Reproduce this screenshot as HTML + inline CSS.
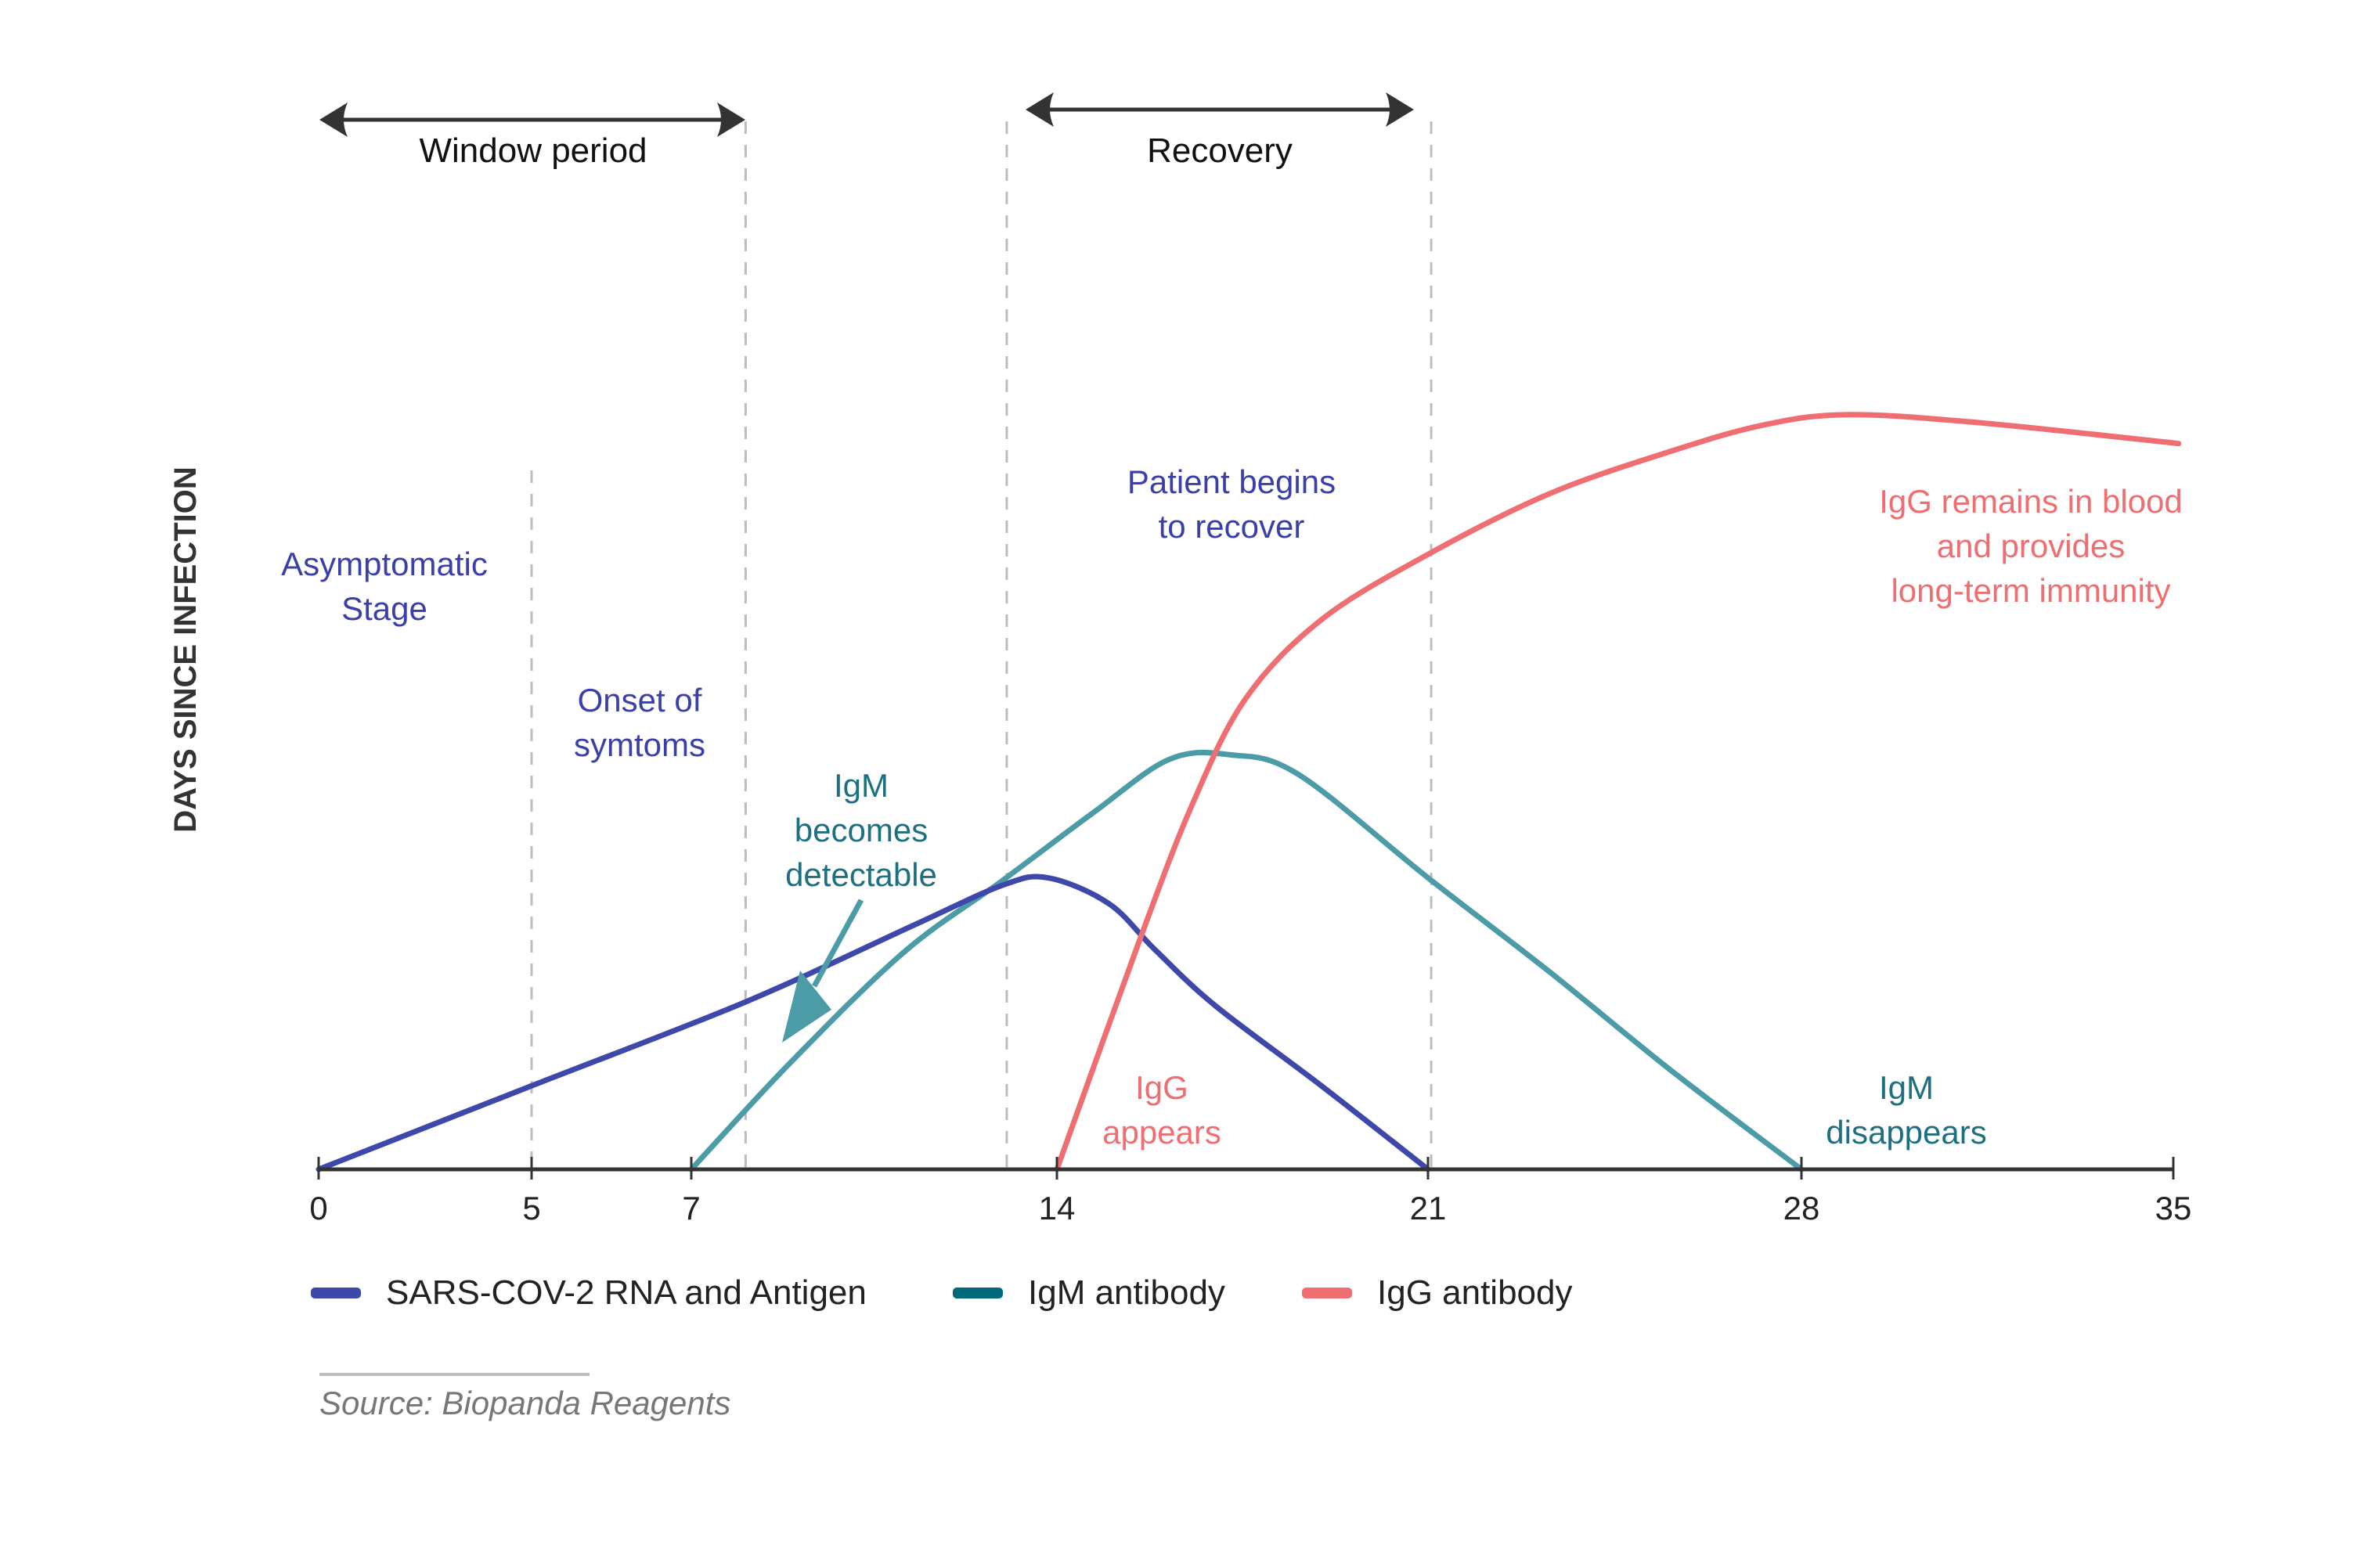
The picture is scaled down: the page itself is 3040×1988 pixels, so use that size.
<!DOCTYPE html>
<html><head><meta charset="utf-8"><style>
html,body{margin:0;padding:0;background:#fff;}
svg{display:block;font-family:"Liberation Sans",sans-serif;}
</style></head><body>
<svg id="chart" width="3040" height="1988" viewBox="0 0 3040 1988" xmlns="http://www.w3.org/2000/svg">
<rect width="3040" height="1988" fill="#fff"/>
<g id="guides"></g>
<g id="series"></g>
<g id="axis"></g>
<g id="annot"></g>
</svg>
<script>
const tickDays = [0, 5, 7, 14, 21, 28, 35];
const tickLabels = ["0", "5", "7", "14", "21", "28", "35"];
const rnaDays = [0, 5, 8.02, 11.21, 12.95, 13.83, 14.98, 15.84, 16.98, 18.99, 21];
const rnaValues = [0, 11, 22, 32, 37.4, 38.4, 35, 29, 21.6, 11, 0];
const igmDays = [7, 8.89, 11.07, 12.95, 14.69, 16.12, 17.27, 18.56, 21, 23.28, 25.56, 28];
const igmValues = [0, 14, 28.6, 38, 47, 54, 54.6, 52, 38.4, 26, 13, 0];
const iggDays = [14, 15.55, 16.55, 17.56, 18.99, 21, 23.28, 25.56, 27.26, 28.83, 31.26, 35.1];
const iggValues = [0, 30, 48, 62, 72.4, 81, 89, 94.6, 98, 99.4, 98.4, 95.6];
const guideDays = [5, 8.04, 13.04, 21.06];

const NS = "http://www.w3.org/2000/svg";
const axisPx = [407, 679, 883, 1350, 1824, 2301, 2776];
const Y0 = 1494, VPX = 9.7;
function xScale(d){
  for (let i = 0; i < tickDays.length - 1; i++){
    if (d <= tickDays[i+1] || i === tickDays.length - 2){
      const t = (d - tickDays[i]) / (tickDays[i+1] - tickDays[i]);
      return axisPx[i] + t * (axisPx[i+1] - axisPx[i]);
    }
  }
}
function yScale(v){ return Y0 - v * VPX; }
function mk(tag, attrs, parent){
  const e = document.createElementNS(NS, tag);
  for (const k in attrs) e.setAttribute(k, attrs[k]);
  parent.appendChild(e); return e;
}
function smoothPath(pts){
  let d = "M" + pts[0][0] + "," + pts[0][1];
  for (let i = 0; i < pts.length - 1; i++){
    const p0 = pts[Math.max(i-1,0)], p1 = pts[i], p2 = pts[i+1], p3 = pts[Math.min(i+2,pts.length-1)];
    const c1x = p1[0] + (p2[0]-p0[0])/6, c1y = p1[1] + (p2[1]-p0[1])/6;
    const c2x = p2[0] - (p3[0]-p1[0])/6, c2y = p2[1] - (p3[1]-p1[1])/6;
    d += " C" + c1x + "," + c1y + " " + c2x + "," + c2y + " " + p2[0] + "," + p2[1];
  }
  return d;
}
const guides = document.getElementById("guides");
guideDays.forEach((g, i) => {
  const top = i === 0 ? 601 : 155;
  const l = mk("line", {x1: xScale(g), x2: xScale(g), y1: top, y2: Y0, stroke: "#bdbdbd", "stroke-width": 3, "stroke-dasharray": "16 14"}, guides);
  
  
});
const series = document.getElementById("series");
function drawSeries(days, vals, color, name){
  const pts = days.map((d, i) => [xScale(d), yScale(vals[i])]);
  const p = mk("path", {d: smoothPath(pts), fill: "none", stroke: color, "stroke-width": 7, "stroke-linejoin": "round", "stroke-linecap": "round"}, series);
  
  
}
drawSeries(igmDays, igmValues, "#4b9ca6", "igm-line");
drawSeries(rnaDays, rnaValues, "#3d48aa", "rna-antigen-line");
drawSeries(iggDays, iggValues, "#ee6e72", "igg-line");

const axis = document.getElementById("axis");
const al = mk("line", {x1: xScale(0), x2: xScale(35), y1: Y0, y2: Y0, stroke: "#333", "stroke-width": 5}, axis);


tickDays.forEach((t, i) => {
  const tk = mk("line", {x1: xScale(t), x2: xScale(t), y1: Y0 - 16, y2: Y0 + 13, stroke: "#333", "stroke-width": 3}, axis);
  
  
  const tx = mk("text", {x: xScale(t), y: 1558, "text-anchor": "middle", "font-size": 42, fill: "#222"}, axis);
  tx.textContent = tickLabels[i];
  
  
});
</script>
<script>
(function(){
const NS = "http://www.w3.org/2000/svg";
const g = document.getElementById("annot");
function txt(lines, x, y0, color, name, size, weight, lh){
  const t = document.createElementNS(NS, "text");
  t.setAttribute("x", x); t.setAttribute("y", y0);
  t.setAttribute("text-anchor", "middle");
  t.setAttribute("font-size", size || 42);
  t.setAttribute("fill", color);
  if (weight) t.setAttribute("font-weight", weight);
  lines.forEach((s, i) => {
    const ts = document.createElementNS(NS, "tspan");
    ts.setAttribute("x", x); ts.setAttribute("dy", i ? (lh || 57) : 0);
    ts.textContent = s; t.appendChild(ts);
  });
  
  
  g.appendChild(t);
}
txt(["Window period"], 681, 207, "#111", "window-period-label", 44);
txt(["Recovery"], 1558, 207, "#111", "recovery-label", 44);
txt(["Asymptomatic", "Stage"], 491, 735, "#3b40a8", "asymptomatic-note");
txt(["Onset of", "symtoms"], 817, 909, "#3b40a8", "onset-note");
txt(["IgM", "becomes", "detectable"], 1100, 1018, "#1d7080", "igm-detectable-note");
txt(["Patient begins", "to recover"], 1573, 630, "#3b40a8", "recover-note");
txt(["IgG remains in blood", "and provides", "long-term immunity"], 2594, 655, "#ee6e72", "igg-remains-note");
txt(["IgG", "appears"], 1484, 1404, "#ee6e72", "igg-appears-note");
txt(["IgM", "disappears"], 2435, 1404, "#1d7080", "igm-disappears-note");
txt(["DAYS SINCE INFECTION"], 0, 0, "#333", "y-axis-title", 40, "bold");
const yt = g.lastChild; yt.setAttribute("transform", "translate(250,830) rotate(-90)");
function arrow(x1, x2, y, name){
  const grp = document.createElementNS(NS, "g");
  grp.innerHTML = '<line x1="'+(x1+20)+'" x2="'+(x2-20)+'" y1="'+y+'" y2="'+y+'" stroke="#333" stroke-width="5"/>' +
   '<path d="M'+x1+','+y+' L'+(x1+36)+','+(y-22)+' Q'+(x1+26)+','+y+' '+(x1+36)+','+(y+22)+' Z" fill="#333"/>' +
   '<path d="M'+x2+','+y+' L'+(x2-36)+','+(y-22)+' Q'+(x2-26)+','+y+' '+(x2-36)+','+(y+22)+' Z" fill="#333"/>';
  
  
  g.appendChild(grp);
}
arrow(408, 952, 153, "window-period-arrow");
arrow(1310, 1806, 140, "recovery-arrow");
const pa = document.createElementNS(NS, "g");
pa.innerHTML = '<line x1="1100" y1="1150" x2="1040" y2="1260" stroke="#4b9ca6" stroke-width="7"/>' +
 '<polygon points="999,1332 1022,1240 1062,1290" fill="#4b9ca6"/>';


g.appendChild(pa);
function legend(sx, color, label, name){
  const lg = document.createElementNS(NS, "g");
  lg.innerHTML = '<rect x="'+sx+'" y="1645" width="64" height="14" rx="5" fill="'+color+'"/>' +
   '<text x="'+(sx+96)+'" y="1666" font-size="44" fill="#222">'+label+'</text>';
  
  
  g.appendChild(lg);
}
legend(397, "#3d48aa", "SARS-COV-2 RNA and Antigen", "legend-entry-rna");
legend(1217, "#006a7a", "IgM antibody", "legend-entry-igm");
legend(1663, "#ee6e72", "IgG antibody", "legend-entry-igg");
const sl = document.createElementNS(NS, "g");
sl.innerHTML = '<line x1="408" x2="753" y1="1756" y2="1756" stroke="#bdbdbd" stroke-width="4"/>' +
 '<text x="408" y="1807" font-size="42" font-style="italic" fill="#777">Source: Biopanda Reagents</text>';


g.appendChild(sl);
})();
</script>
</body></html>
